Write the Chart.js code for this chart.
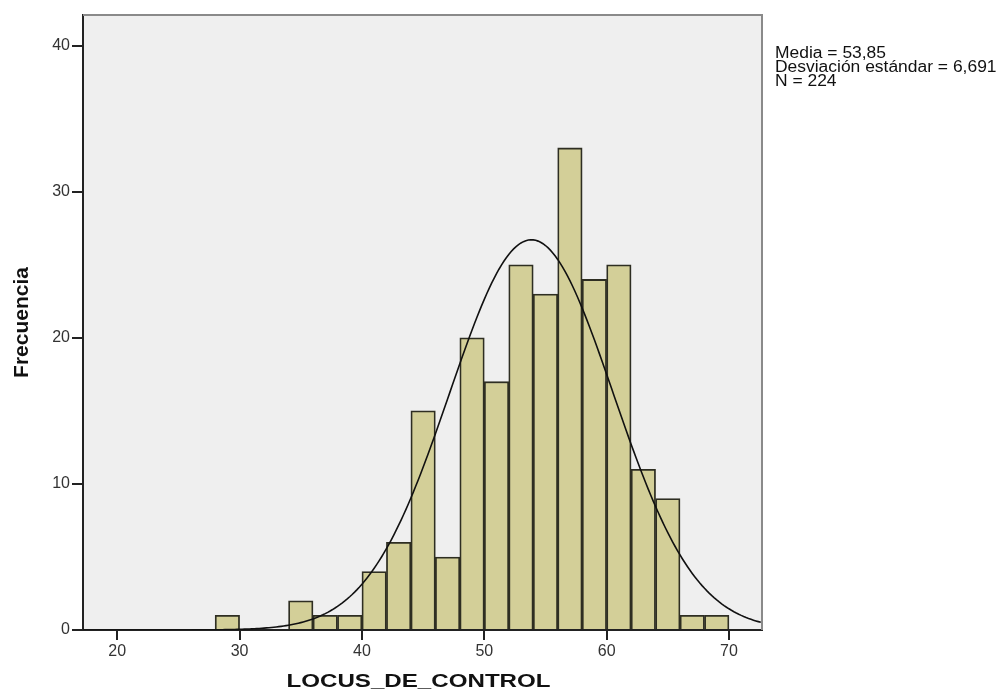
<!DOCTYPE html>
<html>
<head>
<meta charset="utf-8">
<script src="https://cdn.jsdelivr.net/npm/chart.js@4/dist/chart.umd.min.js"></script>
<style>
  html, body { margin: 0; padding: 0; background: #fff; }
  #wrap { width: 1003px; height: 693px; }
</style>
</head>
<body>
<div id="wrap"><canvas id="histChart" width="1003" height="693"></canvas></div>
<script>
// bin centers (width 2) and counts
const binCenters = [29, 35, 37, 39, 41, 43, 45, 47, 49, 51, 53, 55, 57, 59, 61, 63, 65, 67, 69];
const binCounts  = [1, 2, 1, 1, 4, 6, 15, 5, 20, 17, 25, 23, 33, 24, 25, 11, 9, 1, 1];
const binWidth = 2;
const xTicks = [20, 30, 40, 50, 60, 70];
const yTicks = [0, 10, 20, 30, 40];
const stats = { mean: 53.85, sd: 6.691, n: 224 };
const statLines = ['Media = 53,85', 'Desviación estándar = 6,691', 'N = 224'];
const xTitle = 'LOCUS_DE_CONTROL';

const X_MIN = 17.2, X_MAX = 72.7, Y_MAX = 42.1;
const FONT = '"Liberation Sans", Arial, sans-serif';

// fitted normal curve from the stated mean / sd, scaled to counts
const curve = [];
for (let x = X_MIN; x <= X_MAX + 0.001; x += 0.2) {
    const z = (x - stats.mean) / stats.sd;
    const y = stats.n * binWidth * Math.exp(-0.5 * z * z) / (stats.sd * Math.sqrt(2 * Math.PI));
    curve.push({ x: x, y: y });
}

// plot background, top/right frame, stats text and the x title
const frame = {
    id: 'frame',
    beforeDraw(chart) {
        const { ctx, chartArea: a } = chart;
        ctx.save();
        ctx.fillStyle = '#efefef';
        ctx.fillRect(a.left, a.top, a.right - a.left, a.bottom - a.top);
        ctx.restore();
    },
    afterDraw(chart) {
        const { ctx, chartArea: a } = chart;
        ctx.save();
        ctx.strokeStyle = '#8a8a8a';
        ctx.lineWidth = 2;
        ctx.beginPath();
        ctx.moveTo(a.left, a.top);
        ctx.lineTo(a.right, a.top);
        ctx.lineTo(a.right, a.bottom);
        ctx.stroke();

        ctx.fillStyle = '#111';
        ctx.font = '16px ' + FONT;
        ctx.textBaseline = 'alphabetic';
        statLines.forEach((t, i) => {
            ctx.save();
            ctx.translate(775, 58 + i * 14);
            ctx.scale(1.09, 1);
            ctx.fillText(t, 0, 0);
            ctx.restore();
        });

        ctx.font = 'bold 19px ' + FONT;
        ctx.textAlign = 'center';
        ctx.translate((a.left + a.right) / 2 - 4, 687);
        ctx.scale(1.27, 1);
        ctx.fillText(xTitle, 0, 0);
        ctx.restore();
    }
};

const tickFont = { family: FONT, size: 16 };

new Chart(document.getElementById('histChart'), {
    data: {
        datasets: [{
            type: 'line',
            data: curve,
            borderColor: '#111',
            borderWidth: 1.6,
            pointRadius: 0,
            tension: 0,
            order: 0
        }, {
            type: 'bar',
            data: binCenters.map((c, i) => ({ x: c, y: binCounts[i] })),
            backgroundColor: '#d3cf98',
            borderColor: '#2e2e22',
            borderWidth: 1.8,
            barPercentage: 1,
            categoryPercentage: 1,
            order: 1
        }]
    },
    options: {
        responsive: false,
        animation: false,
        layout: { padding: { top: 15, right: 241, left: 0, bottom: 0 } },
        plugins: { legend: { display: false }, tooltip: { enabled: false } },
        scales: {
            x: {
                type: 'linear',
                min: X_MIN,
                max: X_MAX,
                offset: false,
                afterBuildTicks: s => { s.ticks = xTicks.map(v => ({ value: v })); },
                afterFit: s => { s.height = 63; },
                grid: { offset: false, drawOnChartArea: false, drawTicks: true, tickLength: 10, tickColor: '#222', lineWidth: 2 },
                border: { display: true, color: '#222', width: 2 },
                ticks: { font: tickFont, color: '#333', padding: 2, maxRotation: 0 }
            },
            y: {
                min: 0,
                max: Y_MAX,
                afterBuildTicks: s => { s.ticks = yTicks.map(v => ({ value: v })); },
                afterFit: s => { s.width = 83; },
                grid: { drawOnChartArea: false, drawTicks: true, tickLength: 11, tickColor: '#222', lineWidth: 2 },
                border: { display: true, color: '#222', width: 2 },
                ticks: { font: tickFont, color: '#333', padding: 2 },
                title: {
                    display: true,
                    text: 'Frecuencia',
                    color: '#111',
                    font: { family: FONT, size: 21, weight: 'bold' },
                    padding: { top: 10, bottom: 0 }
                }
            }
        }
    },
    plugins: [frame]
});
</script>
</body>
</html>
